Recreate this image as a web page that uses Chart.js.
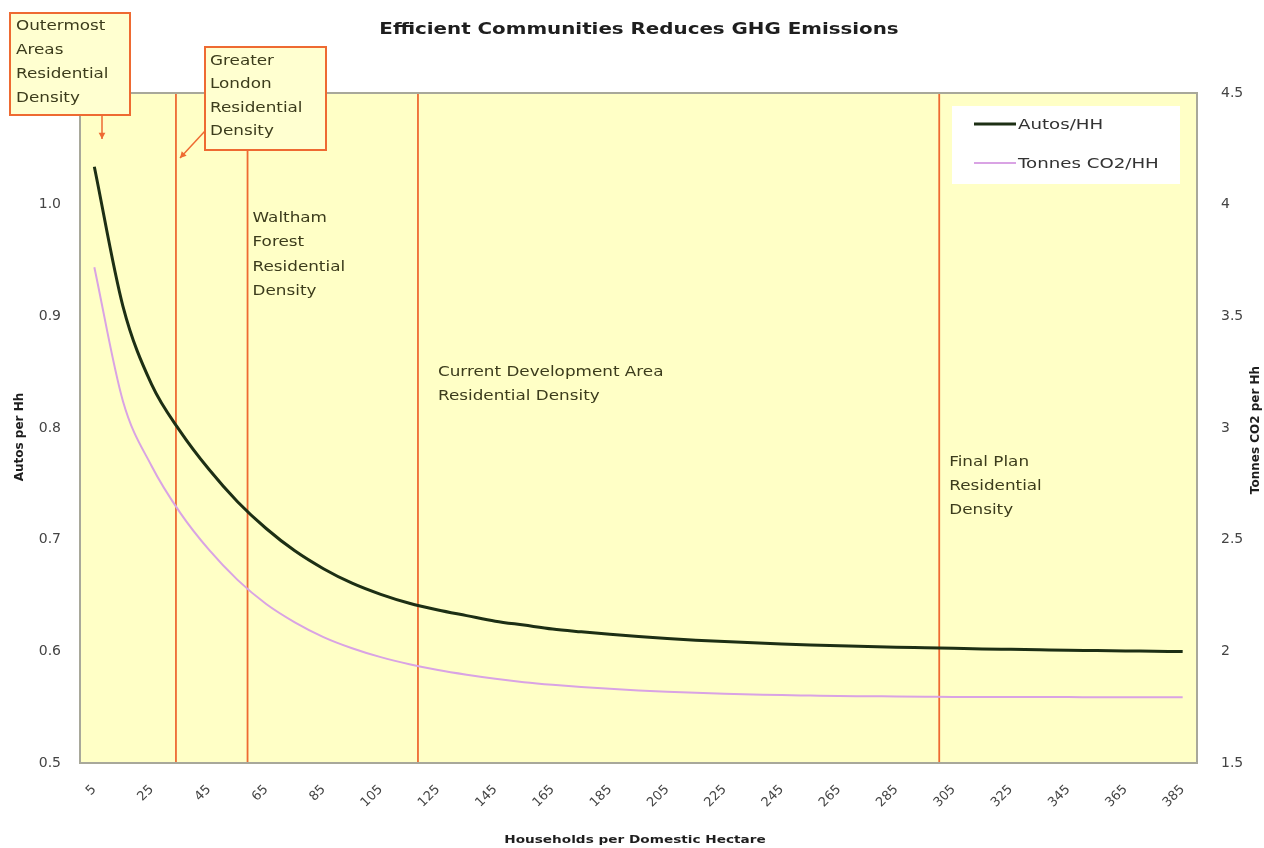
<!DOCTYPE html>
<html>
<head>
<meta charset="utf-8">
<script src="https://cdn.jsdelivr.net/npm/chart.js@4/dist/chart.umd.min.js"></script>
<style>
  html, body { margin: 0; padding: 0; background: #fff; }
  #wrap { width: 1264px; height: 848px; position: relative; }
</style>
</head>
<body>
<div id="wrap"><canvas id="grafico"></canvas></div>
<script>
// households per domestic hectare (one point every 10)
const densities = [5, 15, 25, 35, 45, 55, 65, 75, 85, 95, 105, 115, 125, 135, 145, 155, 165, 175, 185, 195,
  205, 215, 225, 235, 245, 255, 265, 275, 285, 295, 305, 315, 325, 335, 345, 355, 365, 375, 385];
const xTicks = [5, 25, 45, 65, 85, 105, 125, 145, 165, 185, 205, 225, 245, 265, 285, 305, 325, 345, 365, 385];

const autosPerHH = [1.034, 0.909, 0.839, 0.797, 0.763, 0.734, 0.710, 0.690, 0.674, 0.661, 0.651, 0.643, 0.637,
  0.632, 0.627, 0.6235, 0.620, 0.6175, 0.6152, 0.6132, 0.6115, 0.6100, 0.6087, 0.6076, 0.6066, 0.6057, 0.6050,
  0.6043, 0.6037, 0.6032, 0.6027, 0.6022, 0.6018, 0.6014, 0.6010, 0.6007, 0.6004, 0.6001, 0.5998];
const co2PerHH = [3.72, 3.12, 2.83, 2.62, 2.455, 2.32, 2.212, 2.13, 2.064, 2.014, 1.974, 1.942, 1.916, 1.895,
  1.877, 1.862, 1.850, 1.840, 1.832, 1.825, 1.819, 1.814, 1.810, 1.807, 1.804, 1.802, 1.800, 1.799, 1.798,
  1.797, 1.796, 1.796, 1.795, 1.795, 1.795, 1.794, 1.794, 1.794, 1.794];

// vertical density markers
const markerDensities = [33.5, 58.5, 118, 300];

const FONT = "'DejaVu Sans', 'Liberation Sans', Arial, sans-serif";
const ORANGE = "#ee6a32";
const TEXT = "#3c3c1c";
const SX = 1.2; // the original text is drawn a bit wide

const pts = (ys) => densities.map((d, i) => ({ x: d, y: ys[i] }));

const markerSets = markerDensities.map(d => ({
  label: "marker",
  data: [{ x: d, y: 0.5 }, { x: d, y: 1.1 }],
  borderColor: ORANGE,
  borderWidth: 1.8,
  pointRadius: 0,
  yAxisID: "y",
  order: 5
}));

function wide(ctx, t, x, y, sx) {
  ctx.save();
  ctx.translate(x, y);
  ctx.scale(sx || SX, 1);
  ctx.fillText(t, 0, 0);
  ctx.restore();
}

function lines(ctx, arr, x, y0, step) {
  arr.forEach((t, i) => wide(ctx, t, x, y0 + i * step));
}

function arrow(ctx, x1, y1, x2, y2) {
  ctx.beginPath();
  ctx.moveTo(x1, y1);
  ctx.lineTo(x2, y2);
  ctx.stroke();
  const a = Math.atan2(y2 - y1, x2 - x1);
  ctx.beginPath();
  ctx.moveTo(x2, y2);
  ctx.lineTo(x2 - 7 * Math.cos(a - 0.5), y2 - 7 * Math.sin(a - 0.5));
  ctx.lineTo(x2 - 7 * Math.cos(a + 0.5), y2 - 7 * Math.sin(a + 0.5));
  ctx.closePath();
  ctx.fill();
}

const decor = {
  id: "decor",
  beforeDraw(chart) {
    const { ctx, chartArea: a } = chart;
    ctx.save();
    ctx.fillStyle = "#ffffc6";
    ctx.fillRect(a.left, a.top, a.right - a.left, a.bottom - a.top);
    ctx.restore();
  },
  afterDraw(chart) {
    const { ctx, chartArea: a } = chart;
    const xs = chart.scales.x;
    ctx.save();
    // plot frame
    ctx.strokeStyle = "#a8a89a";
    ctx.lineWidth = 2;
    ctx.strokeRect(a.left, a.top, a.right - a.left, a.bottom - a.top);

    // title and axis titles
    ctx.fillStyle = "#1e1e1e";
    ctx.textBaseline = "middle";
    ctx.textAlign = "center";
    ctx.font = "bold 16px " + FONT;
    wide(ctx, "Efficient Communities Reduces GHG Emissions", 639, 30, 1.24);
    ctx.font = "bold 11px " + FONT;
    wide(ctx, "Households per Domestic Hectare", 635, 840, 1.24);
    ctx.font = "bold 12px " + FONT;
    ctx.save();
    ctx.translate(20, 437);
    ctx.rotate(-Math.PI / 2);
    ctx.fillText("Autos per Hh", 0, 0);
    ctx.restore();
    ctx.save();
    ctx.translate(1256, 430);
    ctx.rotate(-Math.PI / 2);
    ctx.fillText("Tonnes CO2 per Hh", 0, 0);
    ctx.restore();

    // annotation boxes
    ctx.lineWidth = 2;
    ctx.strokeStyle = ORANGE;
    ctx.fillStyle = "#ffffd0";
    ctx.fillRect(10, 13, 120, 102);
    ctx.strokeRect(10, 13, 120, 102);
    ctx.fillRect(205, 47, 121, 103);
    ctx.strokeRect(205, 47, 121, 103);
    ctx.fillStyle = ORANGE;
    ctx.lineWidth = 1.5;
    arrow(ctx, 102, 115, 102, 139);
    arrow(ctx, 205, 131, 180, 158);

    ctx.fillStyle = TEXT;
    ctx.textAlign = "left";
    ctx.font = "14px " + FONT;
    lines(ctx, ["Outermost", "Areas", "Residential", "Density"], 16, 26, 24);
    lines(ctx, ["Greater", "London", "Residential", "Density"], 210, 61, 23.5);
    lines(ctx, ["Waltham", "Forest", "Residential", "Density"], xs.getPixelForValue(markerDensities[1]) + 5, 218, 24.5);
    lines(ctx, ["Current Development Area", "Residential Density"], xs.getPixelForValue(markerDensities[2]) + 20, 372, 24);
    lines(ctx, ["Final Plan", "Residential", "Density"], xs.getPixelForValue(markerDensities[3]) + 10, 462, 24);

    // legend
    ctx.fillStyle = "#ffffff";
    ctx.fillRect(952, 106, 228, 78);
    const items = chart.data.datasets.filter(d => d.label !== "marker");
    items.forEach((d, i) => {
      const y = 124 + i * 39;
      ctx.strokeStyle = d.borderColor;
      ctx.lineWidth = d.borderWidth;
      ctx.beginPath();
      ctx.moveTo(974, y);
      ctx.lineTo(1016, y);
      ctx.stroke();
      ctx.fillStyle = "#333";
      ctx.font = "14px " + FONT;
      wide(ctx, d.label, 1018, y + 1, 1.3);
    });
    ctx.restore();
  }
};

new Chart(document.getElementById("grafico"), {
  type: "line",
  data: {
    datasets: [
      {
        label: "Autos/HH",
        data: pts(autosPerHH),
        borderColor: "#1d2f14",
        borderWidth: 3,
        pointRadius: 0,
        cubicInterpolationMode: "monotone",
        yAxisID: "y",
        order: 1
      },
      {
        label: "Tonnes CO2/HH",
        data: pts(co2PerHH),
        borderColor: "#d9a3e4",
        borderWidth: 2,
        pointRadius: 0,
        cubicInterpolationMode: "monotone",
        yAxisID: "y2",
        order: 2
      },
      ...markerSets
    ]
  },
  options: {
    responsive: true,
    maintainAspectRatio: false,
    animation: false,
    layout: { padding: { top: 93, left: 0, right: 0, bottom: 0 } },
    plugins: {
      legend: { display: false },
      title: { display: false },
      tooltip: { enabled: false }
    },
    scales: {
      x: {
        type: "linear",
        min: 0,
        max: 390,
        afterBuildTicks: (s) => { s.ticks = xTicks.map(v => ({ value: v })); },
        afterFit: (s) => { s.height = 85; },
        grid: { display: false },
        border: { display: false },
        ticks: {
          autoSkip: false,
          minRotation: 45,
          maxRotation: 45,
          padding: 11,
          color: "#444",
          font: { family: FONT, size: 13 }
        }
      },
      y: {
        position: "left",
        min: 0.5,
        max: 1.1,
        afterFit: (s) => { s.width = 80; },
        grid: { display: false },
        border: { display: false },
        ticks: {
          stepSize: 0.1,
          padding: 11,
          color: "#444",
          font: { family: FONT, size: 14 },
          callback: (v) => (v > 1.05 ? "" : v.toFixed(1))
        }
      },
      y2: {
        position: "right",
        min: 1.5,
        max: 4.5,
        afterFit: (s) => { s.width = 67; },
        grid: { display: false },
        border: { display: false },
        ticks: {
          stepSize: 0.5,
          padding: 16,
          color: "#444",
          font: { family: FONT, size: 14 },
          callback: (v) => String(Number(v.toFixed(1)))
        }
      }
    }
  },
  plugins: [decor]
});
</script>
</body>
</html>
